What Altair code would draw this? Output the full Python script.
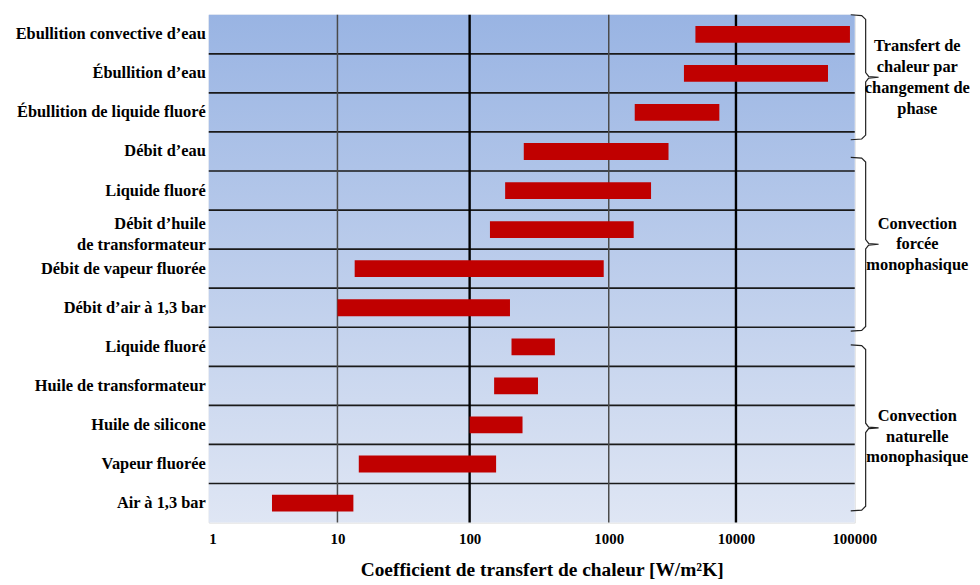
import altair as alt
import pandas as pd

# ---- data ----
labels = [
    "Ebullition convective d’eau",
    "Ébullition d’eau",
    "Ébullition de liquide fluoré",
    "Débit d’eau",
    "Liquide fluoré",
    "Débit d’huile\nde transformateur",
    "Débit de vapeur fluorée",
    "Débit d’air à 1,3 bar",
    "Liquide fluoré",
    "Huile de transformateur",
    "Huile de silicone",
    "Vapeur fluorée",
    "Air à 1,3 bar",
]
low = [4800, 3900, 1600, 245, 180, 140, 13.5, 10, 200, 150, 100, 14.5, 3.1]
high = [92000, 60000, 7400, 2950, 2150, 1570, 920, 195, 410, 310, 240, 155, 13.2]

group_names = [
    "Transfert de\nchaleur par\nchangement de\nphase",
    "Convection\nforcée\nmonophasique",
    "Convection\nnaturelle\nmonophasique",
]
# brace spans in row units (top, bottom) and text centres
group_top = [0.0, 3.65, 8.45]
group_bottom = [3.2, 8.1, 12.7]
group_text_center = [1.6, 5.88, 10.8]

x_ticks = [1, 10, 100, 1000, 10000, 100000]
major_grid = [100, 10000]
minor_grid = [10, 1000]

W, H = 650, 511
ROWPX = H / 13
LH = 21
FONT = "Liberation Serif"

df = pd.DataFrame({"row": list(range(len(labels))), "label": labels, "low": low, "high": high})
df["nl"] = [s.count("\n") for s in labels]

# the reference's decades are not evenly spaced: piecewise log scale
xscale = alt.Scale(type="log", domain=x_ticks, range=[0, 129.5, 262.5, 402.5, 530.5, 649.5])
yscale = alt.Scale(domain=[0, 13], reverse=True, nice=False, zero=False)

xaxis = alt.Axis(
    values=x_ticks, format="d", grid=False, domain=False, ticks=False,
    labelFont=FONT, labelFontWeight="bold", labelFontSize=15, labelColor="black",
    labelPadding=9, labelFlush=False,
    labelAlign=alt.condition("datum.value <= 1", alt.value("left"), alt.value("center")),
    title="Coefficient de transfert de chaleur [W/m²K]",
    titleFont=FONT, titleFontWeight="bold", titleFontSize=19.5, titleColor="black",
    titlePadding=14, titleX=335,
)

bg = alt.Chart(pd.DataFrame({"a": [0]})).mark_rect(
    color=alt.Gradient(
        gradient="linear",
        stops=[alt.GradientStop(color="#99B4E3", offset=0),
               alt.GradientStop(color="#DFE6F4", offset=1)],
        x1=0, x2=0, y1=0, y2=1,
    )
).encode(x=alt.value(0), x2=alt.value(W), y=alt.value(0), y2=alt.value(H))

hlines = alt.Chart(pd.DataFrame({"y": list(range(1, len(labels)))})).mark_rule(
    color="#1a1a1a", strokeWidth=1.7
).encode(y=alt.Y("y:Q", scale=yscale, axis=None), x=alt.value(0), x2=alt.value(W))

vmajor = alt.Chart(pd.DataFrame({"v": major_grid})).mark_rule(
    color="black", strokeWidth=2.4
).encode(x=alt.X("v:Q", scale=xscale, axis=xaxis), y=alt.value(0), y2=alt.value(H))

vminor = alt.Chart(pd.DataFrame({"v": minor_grid})).mark_rule(
    color="#4a4a4a", strokeWidth=1.5
).encode(x=alt.X("v:Q", scale=xscale, axis=xaxis), y=alt.value(0), y2=alt.value(H))

bars = alt.Chart(df).transform_calculate(
    y0="datum.row + 0.285", y1="datum.row + 0.715"
).mark_rect(color="#C00000").encode(
    x=alt.X("low:Q", scale=xscale, axis=xaxis),
    x2="high:Q",
    y=alt.Y("y0:Q", scale=yscale, axis=None),
    y2="y1:Q",
)

ylabels = alt.Chart(df).transform_calculate(
    yc=f"datum.row + 0.5 - datum.nl * {(LH / 2 - 5) / ROWPX}"
).mark_text(
    align="right", baseline="middle", font=FONT, fontWeight="bold", fontSize=16.5,
    color="black", lineBreak="\n", lineHeight=LH,
).encode(x=alt.value(-3), y=alt.Y("yc:Q", scale=yscale, axis=None), text="label:N")

# braces
brace_rows = []
for g, (t, b) in enumerate(zip(group_top, group_bottom)):
    m = (t + b) / 2
    x0, xv, xt = 646, 661, 674
    pts = [(x0, t), (xv - 4, t + 0.02), (xv, t + 0.12), (xv, m - 0.12), (xv + 3, m - 0.02),
           (xt, m), (xv + 3, m + 0.02), (xv, m + 0.12), (xv, b - 0.12), (xv - 4, b - 0.02), (x0, b)]
    for k, (px, py) in enumerate(pts):
        brace_rows.append({"g": g, "k": k, "bx": px, "by": py})
braces = alt.Chart(pd.DataFrame(brace_rows)).mark_line(
    color="#222222", strokeWidth=1.2, clip=False
).encode(
    x=alt.X("bx:Q", scale=None),
    y=alt.Y("by:Q", scale=yscale, axis=None),
    detail="g:N",
    order="k:Q",
)

gdf = pd.DataFrame({
    "name": group_names,
    "gy": [c - n.count("\n") * LH / 2 / ROWPX
           for c, n in zip(group_text_center, group_names)],
})
glabels = alt.Chart(gdf).mark_text(
    align="center", baseline="middle", font=FONT, fontWeight="bold", fontSize=16.5,
    color="black", lineBreak="\n", lineHeight=LH,
).encode(x=alt.value(713), y=alt.Y("gy:Q", scale=yscale, axis=None), text="name:N")

chart = alt.layer(bg, hlines, vminor, vmajor, bars, ylabels, braces, glabels).properties(
    width=W, height=H,
    autosize=alt.AutoSizeParams(type="none"),
    padding={"left": 202, "top": 5, "right": 118, "bottom": 61},
).configure_view(stroke=None).configure(background="white")

chart.save("out.html", embed_options={"renderer": "svg", "actions": False})
